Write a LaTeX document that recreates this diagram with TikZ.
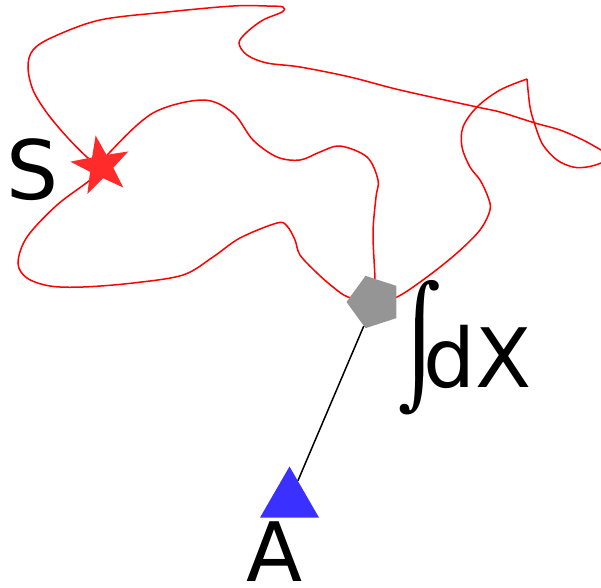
\documentclass[tikz,border=0pt]{standalone}
\usepackage{fontspec}
\setmainfont{DejaVu Sans}
\usetikzlibrary{shapes.geometric}
\definecolor{curvered}{RGB}{255,0,0}
\definecolor{starred}{RGB}{255,42,42}
\definecolor{pentgray}{RGB}{149,149,149}
\definecolor{triblue}{RGB}{58,48,255}
\tikzset{
  walk/.style={draw=curvered, line width=1.5pt, smooth, tension=0.55},
  biglabel/.style={inner sep=0pt, font=\fontsize{82}{82}\selectfont},
}
\begin{document}
\begin{tikzpicture}[x=1pt,y=-1pt]
\useasboundingbox (0,0) rectangle (601,587);
\clip (0,0) rectangle (601,587);
\coordinate (S) at (101,166);
\coordinate (P) at (374,302);
\coordinate (T) at (289.5,500.5);
\coordinate (cusp) at (527,79);
% red curves
\draw[walk] plot coordinates {(S) (110,152) (153,113) (203,100) (233,113) (253,140) (277,157) (300,160) (320,152) (340,146) (367,157) (378,180) (376,197) (373,233) (375,280) (P)};
\draw[walk] plot coordinates {(S) (90,180) (57,205) (27,237) (18,263) (27,278) (50,286) (83,287) (133,283) (183,275) (213,257) (240,238) (277,223) (287,226) (295,240) (300,255) (317,273) (333,287) (348,297) (P)};
\draw[walk] plot coordinates {(P) (397,297) (427,277) (457,253) (480,230) (490,210) (488,197) (480,180) (470,167) (462,147) (463,127) (477,107) (500,90) (cusp)};
\draw[walk] plot coordinates {(cusp) (530,107) (535,125) (543,145) (557,160) (573,167) (587,167) (601,163) (611,156) (601,150) (583,140) (560,130) (535,123) (500,112) (477,107) (400,90) (350,77) (300,67) (267,63) (247,55) (239,43) (247,32) (263,20) (282,12) (283,7) (267,6) (233,6) (167,12) (100,20) (53,37) (33,50) (28,67) (33,90) (47,113) (67,137) (88,158) (S)};
% nodes
\node[star, star points=5, star point ratio=2.5, shape border rotate=10, fill=starred, inner sep=0pt, minimum size=62pt] (star) at (S) {};
\node[regular polygon, regular polygon sides=5, shape border rotate=90, fill=pentgray, inner sep=0pt, minimum size=55pt] (pent) at (P) {};
\node[regular polygon, regular polygon sides=3, fill=triblue, inner sep=0pt, minimum size=68pt] (tri) at (T) {};
\draw[line width=1.5pt] (pent) -- (tri);
\node[biglabel, anchor=base west] (labS) at (6,199) {S};
\node[biglabel, anchor=base west] (labA) at (246,581) {A};
\node[biglabel, anchor=base west] (labX) at (398,387) {\makebox[25pt][l]{\rlap{\raisebox{31pt}{⌠}}\raisebox{-8pt}{⌡}}dX};
\end{tikzpicture}
\end{document}
